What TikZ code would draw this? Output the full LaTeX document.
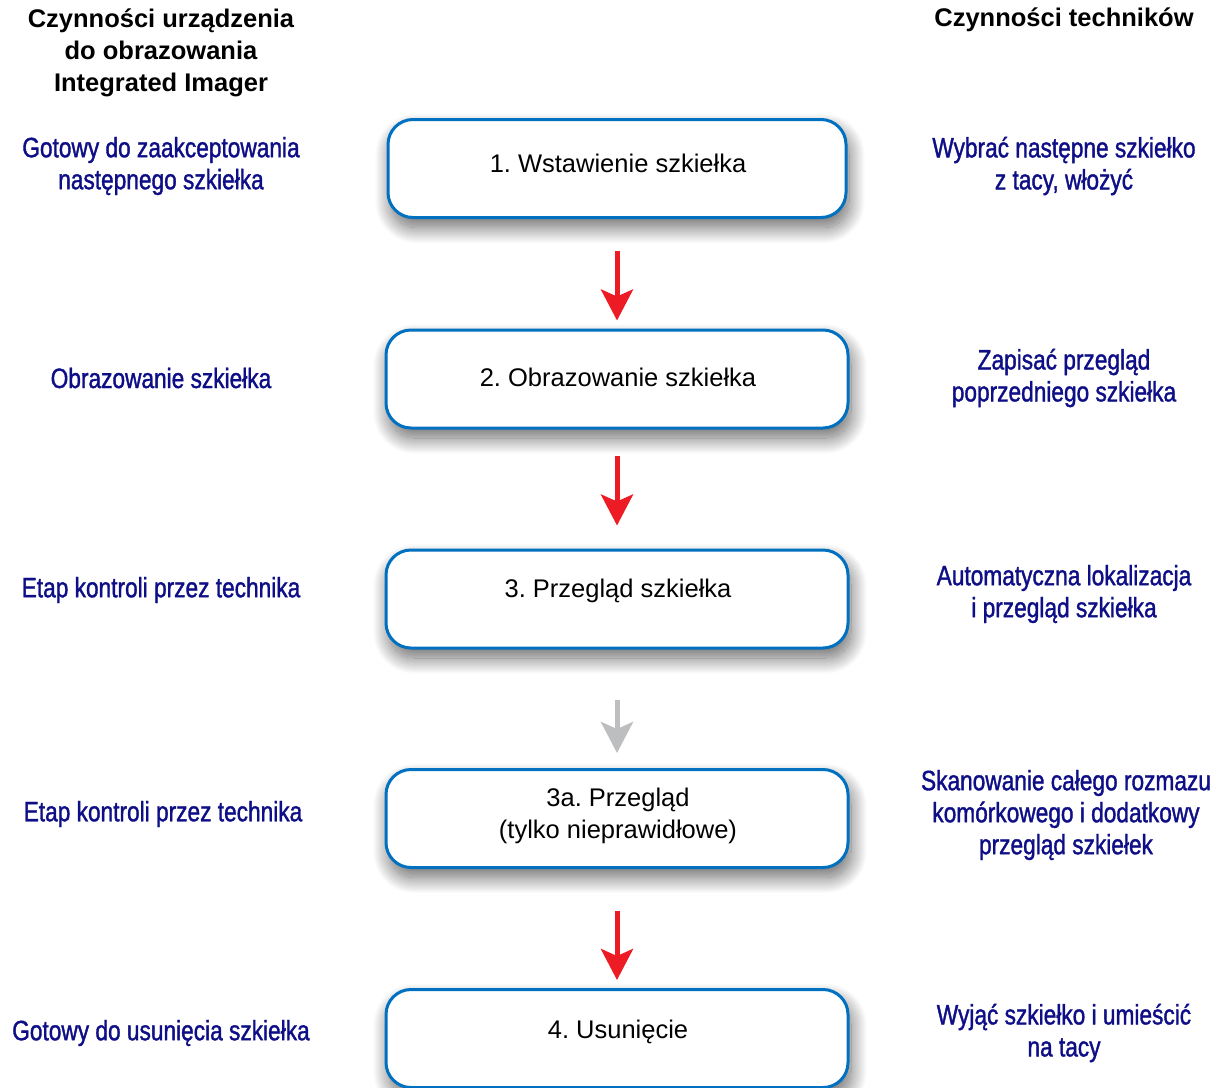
\documentclass[tikz,border=0pt]{standalone}
\usepackage{fontspec}
\usepackage{xcolor}
\usepackage{tikz}
\usetikzlibrary{arrows.meta, shadows.blur}
\setmainfont{Liberation Sans}
\newfontfamily\narrowfont{Liberation Sans}[FakeStretch=0.81, FakeBold=1.3]
\frenchspacing

\definecolor{boxblue}{RGB}{0,112,192}
\definecolor{labelblue}{RGB}{14,14,135}
\definecolor{arrowred}{RGB}{237,28,36}
\definecolor{arrowgray}{RGB}{188,190,192}

\tikzset{
  stepbox/.style={draw=boxblue, line width=3pt, fill=white, rounded corners=25pt,
    minimum width=462pt, minimum height=98pt,
    blur shadow={shadow xshift=3pt, shadow yshift=-10pt, shadow blur radius=16pt,
      shadow blur steps=24, shadow opacity=60}},
  steptext/.style={align=center, font=\fontsize{25.5}{32}\selectfont},
  sidelabel/.style={text=labelblue, align=center, font=\narrowfont\fontsize{28}{32}\selectfont},
  coltitle/.style={align=center, font=\bfseries\fontsize{25.5}{32}\selectfont},
  redflow/.style={draw=arrowred, line width=5pt, -{Stealth[length=31pt, width=32pt, inset=7pt]}},
  grayflow/.style={draw=arrowgray, line width=5pt, -{Stealth[length=31pt, width=32pt, inset=7pt]}}
}

\begin{document}
\begin{tikzpicture}[x=1pt,y=1pt,yscale=-1,xscale=1]
\useasboundingbox (0,0) rectangle (1220,1087);

% Column titles
\node [coltitle] (titleL) at (161,53) {Czynności urządzenia\\do obrazowania\\Integrated Imager};
\node [coltitle] (titleR) at (1064,20) {Czynności techników};

% Steps
\node [stepbox, minimum width=458pt] (b1) at (617,168.5) {};
\node [stepbox] (b2) at (617,379) {};
\node [stepbox] (b3) at (617,599) {};
\node [stepbox] (b3a) at (617,818.5) {};
\node [stepbox] (b4) at (617,1038.5) {};

% Step texts
\node [steptext] (t1) at (618,163) {1. Wstawienie szkiełka};
\node [steptext] (t2) at (618,377) {2. Obrazowanie szkiełka};
\node [steptext] (t3) at (618,591) {3. Przegląd szkiełka};
\node [steptext] (t3a) at (618,816) {3a. Przegląd\\(tylko nieprawidłowe)};
\node [steptext] (t4) at (618,1032) {4. Usunięcie};

% Arrows
\draw [redflow, shorten <=32pt, shorten >=8pt] (b1) -- (b2);
\draw [redflow, shorten <=26pt, shorten >=23pt] (b2) -- (b3);
\draw [grayflow, shorten <=50pt, shorten >=15pt] (b3) -- (b3a);
\draw [redflow, shorten <=42pt, shorten >=8pt] (b3a) -- (b4);

% Left labels
\node [sidelabel] (l1) at (161,166) {Gotowy do zaakceptowania\\następnego szkiełka};
\node [sidelabel] (l2) at (161,378) {Obrazowanie szkiełka};
\node [sidelabel] (l3) at (161,590) {Etap kontroli przez technika};
\node [sidelabel] (l3a) at (163,814) {Etap kontroli przez technika};
\node [sidelabel] (l4) at (161,1033) {Gotowy do usunięcia szkiełka};

% Right labels
\node [sidelabel] (r1) at (1064,166) {Wybrać następne szkiełko\\z tacy, włożyć};
\node [sidelabel] (r2) at (1064,378) {Zapisać przegląd\\poprzedniego szkiełka};
\node [sidelabel] (r3) at (1064,594) {Automatyczna lokalizacja\\i przegląd szkiełka};
\node [sidelabel] (r3a) at (1066,815) {Skanowanie całego rozmazu\\komórkowego i dodatkowy\\przegląd szkiełek};
\node [sidelabel] (r4) at (1064,1033) {Wyjąć szkiełko i umieścić\\na tacy};

\end{tikzpicture}
\end{document}
